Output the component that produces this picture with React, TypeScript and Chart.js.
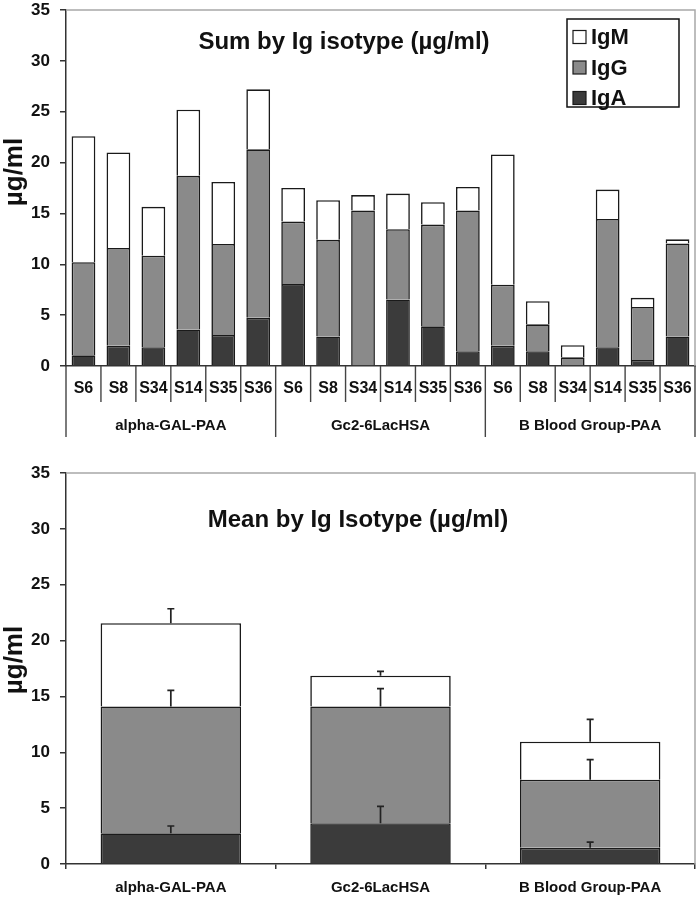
import React, { useEffect, useRef } from "react";
import { Chart, registerables } from "chart.js";
Chart.register(...registerables);

const FONT = "'Liberation Sans', Arial, Helvetica, sans-serif";

// ---------- data ----------
const groups = ["alpha-GAL-PAA", "Gc2-6LacHSA", "B Blood Group-PAA"];
const samplesPerGroup = ["S6", "S8", "S34", "S14", "S35", "S36"];
const sampleLabels = [...samplesPerGroup, ...samplesPerGroup, ...samplesPerGroup];

// top chart: stacked segment heights (µg/ml)
const sumIgA = [1.05, 2.0, 1.85, 3.6, 3.05, 4.75, 8.05, 2.9, 0, 6.55, 3.9, 1.45, 2.0, 1.45, 0, 1.85, 0.6, 2.9];
const sumIgG = [9.15, 9.6, 9.0, 15.1, 8.95, 16.55, 6.15, 9.5, 15.3, 6.9, 10.0, 13.85, 6.0, 2.65, 0.85, 12.6, 5.2, 9.15];
const sumIgM = [12.4, 9.4, 4.8, 6.5, 6.1, 5.9, 3.3, 3.9, 1.5, 3.5, 2.2, 2.3, 12.8, 2.27, 1.2, 2.9, 0.9, 0.4];

// bottom chart: mean segment heights and upper error amounts
const meanIgA = [2.75, 3.65, 1.45];
const meanIgG = [11.35, 10.45, 6.1];
const meanIgM = [7.45, 2.75, 3.4];
const errIgA = [0.65, 1.5, 0.5];
const errIgG = [1.45, 1.6, 1.8];
const errIgM = [1.3, 0.4, 2.0];

const yTicks = [0, 5, 10, 15, 20, 25, 30, 35];
const seriesNames = ["IgA", "IgG", "IgM"];
const sumTitle = "Sum by Ig isotype (µg/ml)";
const meanTitle = "Mean by Ig Isotype (µg/ml)";
const yTitle = "µg/ml";

// ---------- styles ----------
const COLORS = { IgA: "#3b3b3b", IgG: "#8a8a8a", IgM: "#ffffff" };
const EDGE = "#1a1a1a";
const AXIS = "#333333";
const FRAME = "#a8a8a8";

function bold(size: number) {
  return `bold ${size}px ${FONT}`;
}

function makeDatasets(a: number[], g: number[], m: number[]) {
  const vals = [a, g, m];
  return seriesNames.map((name, i) => ({
    label: name,
    data: vals[i],
    backgroundColor: (COLORS as any)[name],
    borderColor: EDGE,
    borderWidth: 1.6,
    borderSkipped: "start" as any,
  }));
}

function yScale() {
  return {
    stacked: true,
    min: 0,
    max: 35,
    afterBuildTicks: (s: any) => {
      s.ticks = yTicks.map((v) => ({ value: v }));
    },
    afterFit: (s: any) => {
      s.width = 66;
      s.paddingTop = 0;
      s.paddingBottom = 0;
    },
    ticks: {
      font: { family: FONT, size: 17, weight: "bold" as const },
      color: "#111",
      padding: 10,
    },
    grid: {
      drawOnChartArea: false,
      drawTicks: true,
      tickLength: 6,
      color: AXIS,
      lineWidth: 1.5,
    },
    border: { color: AXIS, width: 1.5 },
  };
}

function drawFrame(ctx: CanvasRenderingContext2D, a: any) {
  ctx.strokeStyle = FRAME;
  ctx.lineWidth = 1.5;
  ctx.beginPath();
  ctx.moveTo(a.left, a.top);
  ctx.lineTo(a.right, a.top);
  ctx.lineTo(a.right, a.bottom);
  ctx.stroke();
}

function drawYTitle(ctx: CanvasRenderingContext2D, x: number, y: number) {
  ctx.save();
  ctx.translate(x, y);
  ctx.rotate(-Math.PI / 2);
  ctx.font = bold(26);
  ctx.fillStyle = "#111";
  ctx.textAlign = "center";
  ctx.textBaseline = "middle";
  ctx.fillText(yTitle, 0, 0);
  ctx.restore();
}

const sumDeco = {
  id: "sumDeco",
  afterDraw(chart: any) {
    const { ctx, chartArea: a } = chart;
    const x = chart.scales.x;
    const n = sampleLabels.length;
    ctx.save();
    drawFrame(ctx, a);

    const centers = sampleLabels.map((_, i) => x.getPixelForValue(i));
    const bounds: number[] = [];
    for (let i = 0; i <= n; i++) {
      if (i === 0) bounds.push(a.left);
      else if (i === n) bounds.push(a.right);
      else bounds.push((centers[i - 1] + centers[i]) / 2);
    }
    ctx.strokeStyle = "#444";
    ctx.lineWidth = 1.4;
    bounds.forEach((bx, i) => {
      const len = i % samplesPerGroup.length === 0 ? 71 : 36;
      ctx.beginPath();
      ctx.moveTo(bx, a.bottom);
      ctx.lineTo(bx, a.bottom + len);
      ctx.stroke();
    });

    ctx.fillStyle = "#111";
    ctx.textAlign = "center";
    ctx.textBaseline = "middle";
    ctx.font = bold(16);
    sampleLabels.forEach((s, i) => ctx.fillText(s, centers[i], a.bottom + 23));
    ctx.font = bold(15);
    groups.forEach((g, gi) => {
      const k = gi * samplesPerGroup.length;
      const cx = (bounds[k] + bounds[k + samplesPerGroup.length]) / 2;
      ctx.fillText(g, cx, a.bottom + 60);
    });

    // title
    ctx.font = bold(24);
    ctx.fillText(sumTitle, 344, a.top + 32);

    // legend
    const bx1 = a.right - 16;
    const bx0 = bx1 - 112;
    const by0 = a.top + 9;
    const by1 = by0 + 88;
    ctx.fillStyle = "#fff";
    ctx.fillRect(bx0, by0, bx1 - bx0, by1 - by0);
    ctx.strokeStyle = "#111";
    ctx.lineWidth = 1.5;
    ctx.strokeRect(bx0, by0, bx1 - bx0, by1 - by0);
    const ds = [...chart.data.datasets].reverse();
    ds.forEach((d: any, i: number) => {
      const cy = by0 + 18 + i * 30.5;
      ctx.fillStyle = d.backgroundColor;
      ctx.fillRect(bx0 + 6, cy - 6.5, 13, 13);
      ctx.strokeStyle = EDGE;
      ctx.lineWidth = 1.2;
      ctx.strokeRect(bx0 + 6, cy - 6.5, 13, 13);
      ctx.fillStyle = "#111";
      ctx.font = bold(22);
      ctx.textAlign = "left";
      ctx.fillText(d.label, bx0 + 24, cy + 1);
    });

    drawYTitle(ctx, 15, a.top + 162);
    ctx.restore();
  },
};

const meanDeco = {
  id: "meanDeco",
  afterDatasetsDraw(chart: any) {
    const { ctx } = chart;
    const y = chart.scales.y;
    const errs = [errIgA, errIgG, errIgM];
    ctx.save();
    ctx.strokeStyle = "#222";
    ctx.lineWidth = 1.7;
    const cum = [0, 0, 0];
    chart.data.datasets.forEach((d: any, di: number) => {
      const meta = chart.getDatasetMeta(di);
      d.data.forEach((v: number, i: number) => {
        cum[i] += v;
        const bx = meta.data[i].x;
        const y0 = y.getPixelForValue(cum[i]);
        const y1 = y.getPixelForValue(cum[i] + errs[di][i]);
        ctx.beginPath();
        ctx.moveTo(bx, y0);
        ctx.lineTo(bx, y1);
        ctx.moveTo(bx - 3.5, y1);
        ctx.lineTo(bx + 3.5, y1);
        ctx.stroke();
      });
    });
    ctx.restore();
  },
  afterDraw(chart: any) {
    const { ctx, chartArea: a } = chart;
    ctx.save();
    drawFrame(ctx, a);
    ctx.fillStyle = "#111";
    ctx.textAlign = "center";
    ctx.textBaseline = "middle";
    ctx.font = bold(24);
    ctx.fillText(meanTitle, 358, a.top + 47);
    drawYTitle(ctx, 15, a.top + 187);
    ctx.restore();
  },
};

function SumChart() {
  const ref = useRef<HTMLCanvasElement>(null);
  useEffect(() => {
    const chart = new Chart(ref.current!, {
      type: "bar",
      data: { labels: sampleLabels, datasets: makeDatasets(sumIgA, sumIgG, sumIgM) },
      options: {
        responsive: false,
        animation: false,
        layout: { padding: { left: 0, right: 3, top: 10, bottom: 0 } },
        datasets: { bar: { categoryPercentage: 1, barPercentage: 0.68 } },
        plugins: { legend: { display: false }, tooltip: { enabled: false } },
        scales: {
          x: {
            stacked: true,
            offset: true,
            ticks: { display: false },
            grid: { display: false },
            border: { display: true, color: AXIS, width: 1.5 },
            afterFit: (s: any) => {
              s.height = 79;
              s.paddingLeft = 0;
              s.paddingRight = 0;
            },
          },
          y: yScale() as any,
        },
      },
      plugins: [sumDeco],
    });
    return () => chart.destroy();
  }, []);
  return <canvas ref={ref} width={698} height={445} style={{ position: "absolute", left: 0, top: 0 }} />;
}

function MeanChart() {
  const ref = useRef<HTMLCanvasElement>(null);
  useEffect(() => {
    const chart = new Chart(ref.current!, {
      type: "bar",
      data: { labels: groups, datasets: makeDatasets(meanIgA, meanIgG, meanIgM) },
      options: {
        responsive: false,
        animation: false,
        layout: { padding: { left: 0, right: 3, top: 28, bottom: 0 } },
        datasets: { bar: { categoryPercentage: 1, barPercentage: 0.67 } },
        plugins: { legend: { display: false }, tooltip: { enabled: false } },
        scales: {
          x: {
            stacked: true,
            offset: true,
            ticks: {
              font: { family: FONT, size: 15, weight: "bold" as const },
              color: "#111",
              padding: 10,
              maxRotation: 0,
            },
            grid: {
              offset: true,
              drawOnChartArea: false,
              drawTicks: true,
              tickLength: 5,
              color: AXIS,
              lineWidth: 1.5,
            },
            border: { display: true, color: AXIS, width: 1.5 },
            afterFit: (s: any) => {
              s.height = 35;
              s.paddingLeft = 0;
              s.paddingRight = 0;
            },
          },
          y: yScale() as any,
        },
      },
      plugins: [meanDeco],
    });
    return () => chart.destroy();
  }, []);
  return <canvas ref={ref} width={698} height={454} style={{ position: "absolute", left: 0, top: 445 }} />;
}

export default function App() {
  return (
    <div style={{ position: "absolute", left: 0, top: 0, width: 698, height: 899, background: "#fff" }}>
      <SumChart />
      <MeanChart />
    </div>
  );
}
